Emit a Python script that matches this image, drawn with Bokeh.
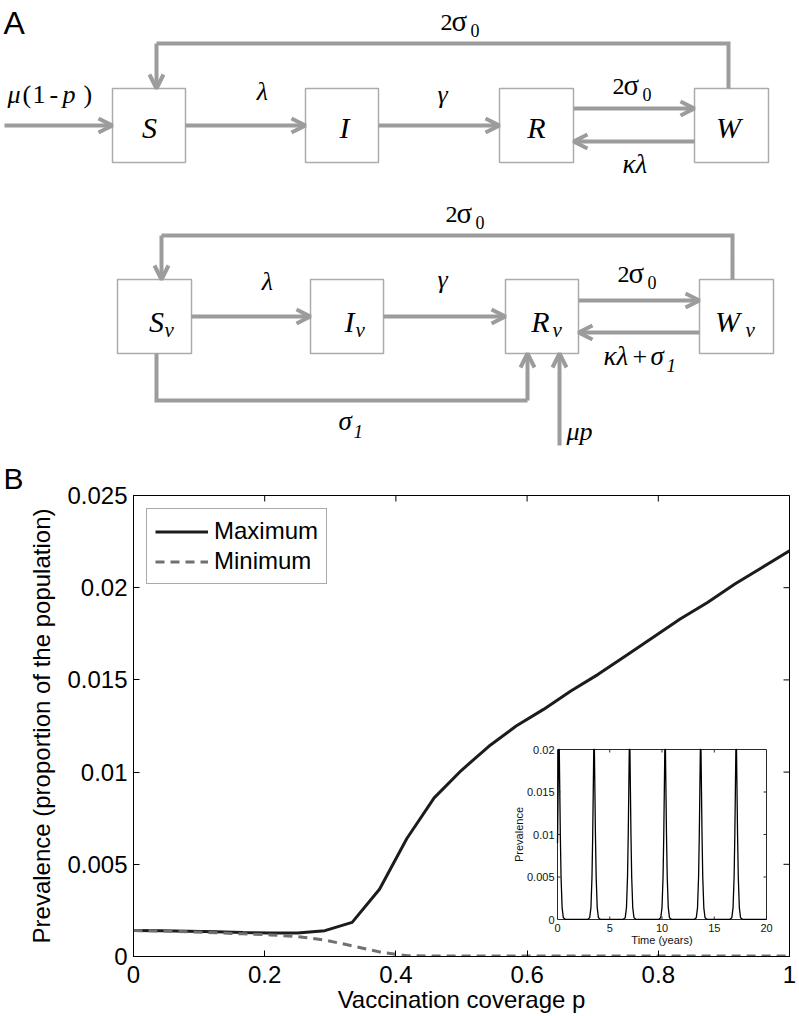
import math
from bokeh.plotting import figure
from bokeh.models import Range1d, FixedTicker, Arrow, OpenHead, Legend, LegendItem
from bokeh.layouts import column
from bokeh.core.properties import value
from bokeh.embed import file_html
from bokeh.resources import INLINE

# ---------------- data: panel B ----------------
coverage_p = [0.0, 0.0417, 0.0833, 0.125, 0.1667, 0.2083, 0.25, 0.2917, 0.3333, 0.375,
              0.4167, 0.4583, 0.5, 0.5417, 0.5833, 0.625, 0.6667, 0.7083, 0.75, 0.7917,
              0.8333, 0.875, 0.9167, 0.9583, 1.0]
prev_max = [0.00141, 0.00139, 0.00137, 0.00134, 0.00130, 0.00127, 0.00127, 0.00140, 0.00185, 0.00365,
            0.0064, 0.0086, 0.0101, 0.0114, 0.0125, 0.0134, 0.0144, 0.0153, 0.0163, 0.0173,
            0.0183, 0.0192, 0.0202, 0.0211, 0.0220]
prev_min = [0.00141, 0.00138, 0.00134, 0.00129, 0.00123, 0.00117, 0.00108, 0.00089, 0.00058, 0.00025,
            0.00004, 0.00003, 0.00003, 0.00003, 0.00003, 0.00003, 0.00003, 0.00003, 0.00003, 0.00003,
            0.00003, 0.00003, 0.00003, 0.00003, 0.00003]
series_names = ["Maximum", "Minimum"]
x_ticks = [0, 0.2, 0.4, 0.6, 0.8, 1.0]
x_tick_labels = ["0", "0.2", "0.4", "0.6", "0.8", "1"]
y_ticks = [0, 0.005, 0.01, 0.015, 0.02, 0.025]
y_tick_labels = ["0", "0.005", "0.01", "0.015", "0.02", "0.025"]
x_title = "Vaccination coverage p"
y_title = "Prevalence (proportion of the population)"

# inset time series
inset_time = [0.00, 0.06, 0.11, 0.17, 0.22, 0.27, 0.34, 0.44, 0.56, 0.74, 1.80,
              2.90, 3.08, 3.20, 3.30, 3.37, 3.42, 3.47, 3.53, 3.58, 3.63, 3.70, 3.80, 3.92, 4.10, 5.20,
              6.30, 6.48, 6.60, 6.70, 6.77, 6.82, 6.87, 6.93, 6.98, 7.03, 7.10, 7.20, 7.32, 7.50, 8.60,
              9.70, 9.88, 10.00, 10.10, 10.17, 10.22, 10.27, 10.33, 10.38, 10.43, 10.50, 10.60, 10.72, 10.90, 12.00,
              13.10, 13.28, 13.40, 13.50, 13.57, 13.62, 13.67, 13.73, 13.78, 13.83, 13.90, 14.00, 14.12, 14.30, 15.40,
              16.50, 16.68, 16.80, 16.90, 16.97, 17.02, 17.07, 17.13, 17.18, 17.23, 17.30, 17.40, 17.52, 17.70, 20.00]
inset_prev = [0.0090, 0.0150, 0.0200, 0.0200, 0.0150, 0.0100, 0.0050, 0.0014, 0.0002, 0.00003, 0.00001,
              0.00003, 0.0002, 0.0014, 0.0050, 0.0100, 0.0150, 0.0200, 0.0200, 0.0150, 0.0100, 0.0050, 0.0014, 0.0002, 0.00003, 0.00001,
              0.00003, 0.0002, 0.0014, 0.0050, 0.0100, 0.0150, 0.0200, 0.0200, 0.0150, 0.0100, 0.0050, 0.0014, 0.0002, 0.00003, 0.00001,
              0.00003, 0.0002, 0.0014, 0.0050, 0.0100, 0.0150, 0.0200, 0.0200, 0.0150, 0.0100, 0.0050, 0.0014, 0.0002, 0.00003, 0.00001,
              0.00003, 0.0002, 0.0014, 0.0050, 0.0100, 0.0150, 0.0200, 0.0200, 0.0150, 0.0100, 0.0050, 0.0014, 0.0002, 0.00003, 0.00001,
              0.00003, 0.0002, 0.0014, 0.0050, 0.0100, 0.0150, 0.0200, 0.0200, 0.0150, 0.0100, 0.0050, 0.0014, 0.0002, 0.00003, 0.00001]
inset_x_ticks = [0, 5, 10, 15, 20]
inset_x_labels = ["0", "5", "10", "15", "20"]
inset_y_ticks = [0, 0.005, 0.01, 0.015, 0.02]
inset_y_labels = ["0", "0.005", "0.01", "0.015", "0.02"]
inset_x_title = "Time (years)"
inset_y_title = "Prevalence"

# ---------------- styles ----------------
GRAY = "#9c9c9c"
BOXC = "#acacac"
SERIF = "Liberation Serif"
SANS = "Liberation Sans"
W = 798
H1 = 458
H2 = 557

# ---------------- panel A: compartment diagram ----------------
d = figure(width=W, height=H1, x_range=Range1d(0, W), y_range=Range1d(H1, 0),
           x_axis_location=None, y_axis_location=None, toolbar_location=None,
           output_backend="svg", min_border=0, outline_line_color=None)
d.grid.visible = False
d.frame_align = False


def txt(fig, x, y, s, size, style="normal", align="left", font=SERIF):
    # y is the wanted text baseline; drawn with a 'middle' baseline
    fig.text(x=[x], y=[y - 0.34 * size], text=[s], text_font=value(font),
             text_font_size=f"{size}px", text_font_style=style, text_align=align,
             text_baseline="middle", text_color="black")


def arrow(x0, y0, x1, y1):
    d.add_layout(Arrow(end=OpenHead(size=14, line_color=GRAY, line_width=4),
                       x_start=x0, y_start=y0, x_end=x1, y_end=y1,
                       line_color=GRAY, line_width=4))


def path(xs, ys):
    d.line(xs, ys, line_color=GRAY, line_width=4, line_join="miter")


def two_sigma0(x, y):
    txt(d, x, y, "2", 24)
    txt(d, x + 11, y, "σ", 29)
    txt(d, x + 30, y + 6, "0", 18)


boxes = [(112, 185, 88, 162), (305, 378, 88, 162), (499, 573, 88, 162), (694, 768, 88, 162),
         (117, 191, 279, 353), (310, 383, 279, 353), (505, 578, 279, 353), (699, 773, 279, 353)]
d.quad(left=[b[0] for b in boxes], right=[b[1] for b in boxes],
       top=[b[2] for b in boxes], bottom=[b[3] for b in boxes],
       fill_color="white", line_color=BOXC, line_width=1.5)

# top model
arrow(4, 125, 112, 125)
arrow(185, 125, 305, 125)
arrow(378, 125, 499, 125)
arrow(573, 108, 694, 108)
arrow(694, 141, 573, 141)
path([728, 728, 156], [88, 43, 43])
arrow(156, 43, 156, 88)

# bottom model
arrow(191, 316, 310, 316)
arrow(383, 316, 505, 316)
arrow(578, 300, 699, 300)
arrow(699, 332, 578, 332)
path([732, 732, 161], [279, 235, 235])
arrow(161, 235, 161, 279)
path([156, 156, 527], [353, 400, 400])
arrow(527, 400, 527, 353)
arrow(559, 445, 559, 353)

# panel letter A
txt(d, 3, 33, "A", 32, font=SANS)

# top labels
txt(d, 7, 103, "μ", 26, "italic")
txt(d, 22, 103, "(", 26)
txt(d, 32, 103, "1", 26)
txt(d, 49, 103, "-", 26)
txt(d, 62, 103, "p", 26, "italic")
txt(d, 83, 103, ")", 26)
txt(d, 262, 100, "λ", 26, "italic", "center")
txt(d, 442, 103, "γ", 26, "italic", "center")
two_sigma0(612, 94)
two_sigma0(440, 30)
txt(d, 622, 173, "κλ", 27, "italic")
for cx, s in [(149, "S"), (344, "I"), (536, "R"), (728, "W")]:
    txt(d, cx, 137, s, 30, "italic", "center")

# bottom labels
two_sigma0(445, 222)
txt(d, 267, 290, "λ", 26, "italic", "center")
txt(d, 442, 288, "γ", 26, "italic", "center")
two_sigma0(617, 282)
txt(d, 603, 365, "κλ", 27, "italic")
txt(d, 632, 365, "+", 26)
txt(d, 650, 365, "σ", 27, "italic")
txt(d, 666, 371, "1", 19, "italic")
txt(d, 338, 430, "σ", 27, "italic")
txt(d, 353, 437, "1", 19, "italic")
txt(d, 566, 440, "μp", 26, "italic")
for cx, sx_, s in [(156, 164, "S"), (349, 355, "I"), (540, 552, "R"), (727, 745, "W")]:
    txt(d, cx, 331, s, 30, "italic", "center")
    txt(d, sx_, 337, "v", 21, "italic")

# ---------------- panel B: chart ----------------
FX0, FX1, FY0, FY1 = 133, 789, 495, 956       # main frame in page px (left, right, top, bottom)
IX0, IX1, IY0, IY1 = 557, 766, 749, 919       # inset frame in page px

p = figure(width=W, height=H2, x_range=Range1d(0, 1), y_range=Range1d(0, 0.025),
           toolbar_location=None, output_backend="svg",
           min_border_left=FX0, min_border_right=W - FX1, min_border_top=FY0 - H1,
           min_border_bottom=H1 + H2 - FY1,
           outline_line_color="black", outline_line_width=1, title="B")
p.grid.visible = False
p.frame_align = False
p.title.text_font = SANS
p.title.text_font_size = "30px"
p.title.text_font_style = "normal"
p.title.text_color = "black"
p.title.align = "left"
p.title.offset = 3 - FX0
p.title.standoff = 2

r_max = p.line(coverage_p, prev_max, line_color="#1c1c1c", line_width=3)
r_min = p.line(coverage_p, prev_min, line_color="#707070", line_width=3, line_dash="9 6")

p.xaxis.ticker = FixedTicker(ticks=x_ticks)
p.xaxis.major_label_overrides = dict(zip(x_ticks, x_tick_labels))
p.yaxis.ticker = FixedTicker(ticks=y_ticks)
p.yaxis.major_label_overrides = dict(zip(y_ticks, y_tick_labels))
p.xaxis.axis_label = x_title
p.yaxis.axis_label = y_title
for ax in list(p.xaxis) + list(p.yaxis):
    ax.major_tick_in = 6
    ax.major_tick_out = 0
    ax.minor_tick_in = 0
    ax.minor_tick_out = 0
    ax.axis_line_color = "black"
    ax.major_tick_line_color = "black"
    ax.major_label_text_font = SANS
    ax.major_label_text_font_size = "24px"
    ax.major_label_text_color = "black"
    ax.axis_label_text_font = SANS
    ax.axis_label_text_font_size = "24px"
    ax.axis_label_text_font_style = "normal"
    ax.axis_label_text_color = "black"
p.xaxis.major_label_standoff = 9
p.xaxis.axis_label_standoff = 0
p.yaxis.major_label_standoff = 6
p.yaxis.axis_label_standoff = 9

# inward ticks on the top and right edges of the box
tx_len = 6 * (1 - 0) / (FX1 - FX0)
ty_len = 6 * (0.025 - 0) / (FY1 - FY0)
p.segment(x0=x_ticks, y0=[0.025] * len(x_ticks), x1=x_ticks, y1=[0.025 - ty_len] * len(x_ticks),
          line_color="black", line_width=1)
p.segment(x0=[1.0] * len(y_ticks), y0=y_ticks, x1=[1.0 - tx_len] * len(y_ticks), y1=y_ticks,
          line_color="black", line_width=1)

legend = Legend(items=[LegendItem(label=series_names[0], renderers=[r_max]),
                       LegendItem(label=series_names[1], renderers=[r_min])],
                location="top_left", margin=13, padding=8, spacing=2,
                glyph_width=53, glyph_height=27, label_height=27, label_standoff=6,
                label_text_font=SANS, label_text_font_size="24px", label_text_color="black",
                border_line_color="#555555", border_line_width=1,
                background_fill_color="white", background_fill_alpha=1)
p.add_layout(legend)

# inset ranges mapped onto its page-pixel box
sx = (inset_x_ticks[-1] - inset_x_ticks[0]) / (IX1 - IX0)
sy = (inset_y_ticks[-1] - inset_y_ticks[0]) / (IY1 - IY0)
p.extra_x_ranges = {"ix": Range1d((FX0 - IX0) * sx, (FX1 - IX0) * sx)}
p.extra_y_ranges = {"iy": Range1d((IY1 - FY1) * sy, (IY1 - FY0) * sy)}

kw = dict(x_range_name="ix", y_range_name="iy")
t0, t1 = inset_x_ticks[0], inset_x_ticks[-1]
v0, v1 = inset_y_ticks[0], inset_y_ticks[-1]

p.quad(left=[t0], right=[t1], bottom=[v0], top=[v1], fill_color="white",
       line_color="#2a2a2a", line_width=1, **kw)
p.line(inset_time, inset_prev, line_color="black", line_width=1.3, **kw)

tl_x, tl_y = 3 * sx, 3 * sy
inner_x = inset_x_ticks[1:-1]
inner_y = inset_y_ticks[1:-1]
p.segment(x0=inner_x + inner_x, y0=[v0] * len(inner_x) + [v1] * len(inner_x),
          x1=inner_x + inner_x, y1=[v0 + tl_y] * len(inner_x) + [v1 - tl_y] * len(inner_x),
          line_color="#2a2a2a", line_width=1, **kw)
p.segment(x0=[t0] * len(inner_y) + [t1] * len(inner_y), y0=inner_y + inner_y,
          x1=[t0 + tl_x] * len(inner_y) + [t1 - tl_x] * len(inner_y), y1=inner_y + inner_y,
          line_color="#2a2a2a", line_width=1, **kw)

p.text(x=[t0 - 3 * sx] * len(inset_y_ticks), y=inset_y_ticks, text=inset_y_labels,
       text_font=value(SANS), text_font_size="11px", text_align="right",
       text_baseline="middle", text_color="#111111", **kw)
p.text(x=inset_x_ticks, y=[v0 - 8 * sy] * len(inset_x_ticks), text=inset_x_labels,
       text_font=value(SANS), text_font_size="11px", text_align="center",
       text_baseline="middle", text_color="#111111", **kw)
p.text(x=[(t0 + t1) / 2], y=[v0 - 20 * sy], text=[inset_x_title],
       text_font=value(SANS), text_font_size="11px", text_align="center",
       text_baseline="middle", text_color="#111111", **kw)
p.text(x=[t0 - 39 * sx], y=[(v0 + v1) / 2], text=[inset_y_title], angle=math.pi / 2,
       text_font=value(SANS), text_font_size="11px", text_align="center",
       text_baseline="middle", text_color="#111111", **kw)

layout = column(d, p, spacing=0)
open("out.html", "w").write(file_html(layout, INLINE))
